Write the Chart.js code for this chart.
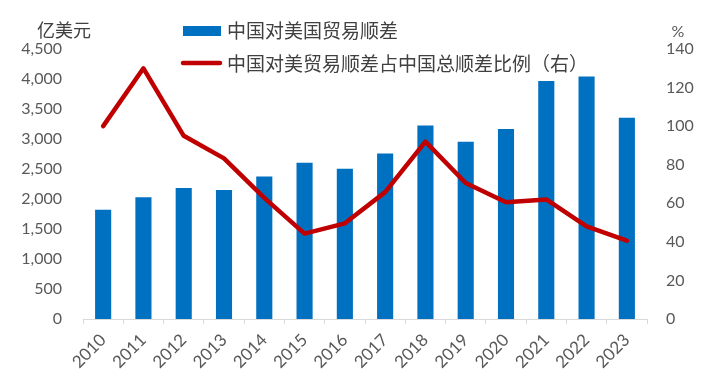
<!DOCTYPE html>
<html>
<head>
<meta charset="utf-8">
<script src="https://cdn.jsdelivr.net/npm/chart.js@4/dist/chart.umd.min.js"></script>
<style>
  html, body { margin: 0; padding: 0; background: #ffffff; }
  #wrap { position: relative; width: 714px; height: 380px; }
</style>
</head>
<body>
<div id="wrap"><canvas id="c" width="714" height="380"></canvas></div>
<script>
const years = ['2010','2011','2012','2013','2014','2015','2016','2017','2018','2019','2020','2021','2022','2023'];
const surplusUS = [1820, 2030, 2185, 2150, 2375, 2605, 2505, 2760, 3225, 2955, 3165, 3965, 4040, 3355];
const shareOfTotal = [100, 130, 95, 83.3, 62.8, 44.3, 49.6, 65.8, 92, 70.5, 60.5, 62, 48, 40.6];
const leftTicks = [0, 500, 1000, 1500, 2000, 2500, 3000, 3500, 4000, 4500];
const rightTicks = [0, 20, 40, 60, 80, 100, 120, 140];
const barLabel = '中国对美国贸易顺差';
const lineLabel = '中国对美贸易顺差占中国总顺差比例（右）';
const leftUnit = '亿美元';
const rightUnit = '%';

const FONT = "Lato, 'Noto Sans CJK SC', sans-serif";
const CJK = "'Noto Sans CJK SC', sans-serif";
const TICK_COLOR = '#595959';
const TEXT_COLOR = '#404040';

const legendPlugin = {
  id: 'customLegend',
  afterDraw(chart) {
    const ctx = chart.ctx;
    const ds = chart.data.datasets;
    ctx.save();
    // bar item
    ctx.fillStyle = ds[1].backgroundColor;
    ctx.fillRect(183, 26, 38, 10);
    ctx.font = "19px " + CJK;
    ctx.fillStyle = TEXT_COLOR;
    ctx.textBaseline = 'middle';
    ctx.textAlign = 'left';
    ctx.fillText(ds[1].label, 227, 31);
    // line item
    ctx.strokeStyle = ds[0].borderColor;
    ctx.lineWidth = 4.5;
    ctx.lineCap = 'round';
    ctx.beginPath();
    ctx.moveTo(183, 63);
    ctx.lineTo(220, 63);
    ctx.stroke();
    ctx.fillText(ds[0].label, 227, 64);
    // unit labels
    ctx.font = "18px " + CJK;
    ctx.textAlign = 'center';
    ctx.fillText(leftUnit, 64, 30);
    ctx.font = "16px " + FONT;
    ctx.fillStyle = TICK_COLOR;
    ctx.fillText(rightUnit, 678, 32);
    ctx.restore();
  }
};

new Chart(document.getElementById('c'), {
  type: 'bar',
  data: {
    labels: years,
    datasets: [
      {
        type: 'line',
        label: lineLabel,
        data: shareOfTotal,
        yAxisID: 'y1',
        borderColor: '#C00000',
        backgroundColor: '#C00000',
        borderWidth: 4.5,
        pointRadius: 0,
        tension: 0,
        borderJoinStyle: 'round',
        borderCapStyle: 'round',
        order: 0
      },
      {
        type: 'bar',
        label: barLabel,
        data: surplusUS,
        yAxisID: 'y',
        backgroundColor: '#0070C0',
        borderWidth: 0,
        categoryPercentage: 1,
        barPercentage: 0.4,
        order: 1
      }
    ]
  },
  options: {
    responsive: false,
    animation: false,
    devicePixelRatio: 1,
    layout: { padding: { top: 49, left: 0, right: 0, bottom: 0 } },
    plugins: {
      legend: { display: false },
      tooltip: { enabled: false }
    },
    scales: {
      x: {
        grid: { display: true, drawOnChartArea: false, drawTicks: true, tickLength: 5, color: '#d9d9d9', offset: true },
        border: { display: true, color: '#d9d9d9', width: 1 },
        ticks: { color: TICK_COLOR, font: { family: FONT, size: 17 }, minRotation: 45, maxRotation: 45, padding: 6 },
        afterFit(s) { s.height = 61; }
      },
      y: {
        position: 'left',
        min: 0, max: 4500,
        afterBuildTicks(s) { s.ticks = leftTicks.map(v => ({ value: v })); },
        grid: { display: false, drawTicks: false },
        border: { display: false },
        ticks: {
          color: TICK_COLOR, font: { family: FONT, size: 16 }, padding: 21,
          callback: v => v.toLocaleString('en-US')
        },
        afterFit(s) { s.width = 83; }
      },
      y1: {
        position: 'right',
        min: 0, max: 140,
        afterBuildTicks(s) { s.ticks = rightTicks.map(v => ({ value: v })); },
        grid: { display: false, drawTicks: false },
        border: { display: false },
        ticks: { color: TICK_COLOR, font: { family: FONT, size: 16 }, padding: 19 },
        afterFit(s) { s.width = 67; }
      }
    }
  },
  plugins: [legendPlugin]
});
</script>
</body>
</html>
